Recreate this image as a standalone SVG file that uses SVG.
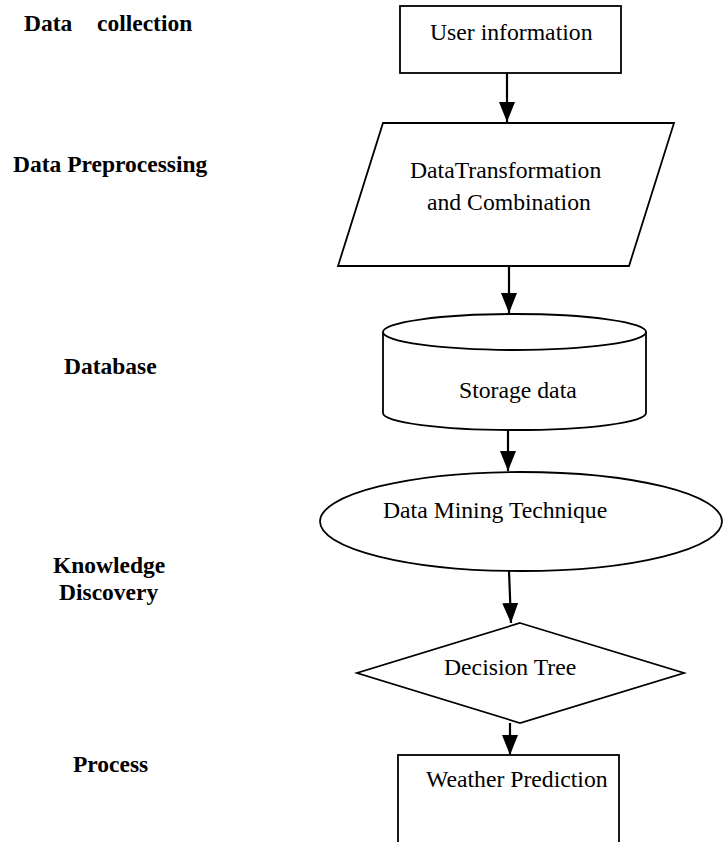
<svg xmlns="http://www.w3.org/2000/svg" width="727" height="842" viewBox="0 0 727 842">
<style>
.shape{fill:#fff;stroke:#000;stroke-width:1.8}
.lbl{font-family:"Liberation Serif","Times New Roman",serif;font-size:23.7px;fill:#000}
.side{font-family:"Liberation Serif","Times New Roman",serif;font-size:23.5px;font-weight:bold;fill:#000}
.conn{stroke:#000;stroke-width:2.2;fill:none;marker-end:url(#arr)}
</style>
<defs>
<marker id="arr" markerUnits="userSpaceOnUse" markerWidth="20" markerHeight="16" viewBox="0 0 20 16" refX="20" refY="8" orient="auto">
<path d="M0,0 L20,8 L0,16 Z" fill="#000"/>
</marker>
</defs>
<rect width="727" height="842" fill="#fff"/>
<g id="labels">
<text class="side" y="31"><tspan x="24">Data</tspan><tspan x="97">collection</tspan></text>
<text class="side" x="13" y="172">Data Preprocessing</text>
<text class="side" x="64" y="374">Database</text>
<text class="side" x="53" y="573">Knowledge</text>
<text class="side" x="59" y="600">Discovery</text>
<text class="side" x="73" y="772">Process</text>
</g>
<g id="user-information">
<rect class="shape" x="400" y="6" width="221" height="67"/>
<text class="lbl" x="430" y="40">User information</text>
</g>
<g id="data-transformation">
<polygon class="shape" points="383,123 674,123 629,266 338,266"/>
<text class="lbl" x="410" y="178">DataTransformation</text>
<text class="lbl" x="427" y="210">and Combination</text>
</g>
<g id="storage-data">
<path class="shape" d="M383,332 L383,413 A131.5,17 0 0 0 646,413 L646,332"/>
<ellipse class="shape" cx="514.5" cy="332" rx="131.5" ry="18"/>
<text class="lbl" x="459" y="398">Storage data</text>
</g>
<g id="data-mining">
<ellipse class="shape" cx="521" cy="521.5" rx="201" ry="49.5"/>
<text class="lbl" x="383" y="518">Data Mining Technique</text>
</g>
<g id="decision-tree">
<polygon class="shape" points="520,623 684,673 520,723 357,673"/>
<text class="lbl" x="444" y="675">Decision Tree</text>
</g>
<g id="weather-prediction">
<rect class="shape" x="398" y="755" width="221" height="110"/>
<text class="lbl" x="426" y="787">Weather Prediction</text>
</g>
<g id="connectors">
<line class="conn" x1="507" y1="73" x2="507" y2="122"/>
<line class="conn" x1="509" y1="266" x2="509" y2="313"/>
<line class="conn" x1="508" y1="429" x2="508" y2="471"/>
<line class="conn" x1="509" y1="571" x2="511" y2="623"/>
<line class="conn" x1="510" y1="723" x2="510" y2="755"/>
</g>
</svg>
